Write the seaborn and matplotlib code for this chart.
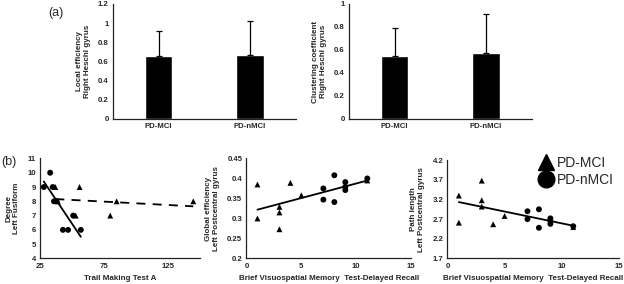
import numpy as np
import pandas as pd
import seaborn as sns
import matplotlib.pyplot as plt
from matplotlib.lines import Line2D

# %% DATA

groups = ['PD-MCI', 'PD-nMCI']
local_eff = [0.66, 0.67]
local_eff_sd = [0.26, 0.35]
clust_coef = [0.55, 0.57]
clust_coef_sd = [0.24, 0.34]

# (b) degree vs trail making test A
tmt_mci = [37, 39, 53, 56, 80, 85, 145]
deg_mci = [9, 8, 7, 9, 7, 8, 8]
tmt_nmci = [28, 33, 35, 36, 38, 43, 47, 51, 57]
deg_nmci = [9, 10, 9, 8, 8, 6, 6, 7, 6]

# (b) BVMT delayed recall vs global efficiency / path length
bvmt_mci = [1, 1, 4, 3, 3, 3, 5, 11]
bvmt_nmci = [7, 7, 8, 8, 9, 9, 9, 11]
geff_mci = [0.385, 0.300, 0.389, 0.329, 0.315, 0.273, 0.358, 0.395]
geff_nmci = [0.375, 0.347, 0.408, 0.341, 0.391, 0.379, 0.371, 0.400]
plen_mci = [3.30, 2.61, 2.57, 3.68, 3.18, 3.02, 2.78, 2.50]
plen_nmci = [2.90, 2.70, 2.95, 2.48, 2.72, 2.66, 2.58, 2.52]

# %% STYLE

sns.set_style('ticks')
plt.rcParams['font.family'] = ['Liberation Sans', 'DejaVu Sans']
plt.rcParams['font.weight'] = 'bold'
plt.rcParams['axes.labelweight'] = 'bold'
TICK = 5.6
LABEL = 5.8

fig = plt.figure(figsize=(6.24, 2.84), dpi=100)


def style_axes(ax):
    sns.despine(ax=ax)
    ax.tick_params(labelsize=TICK, length=0, pad=3)
    for s in ('left', 'bottom'):
        ax.spines[s].set_linewidth(0.9)
        ax.spines[s].set_color('#222222')


# %% (a) BAR PLOTS

def bar_panel(rect, values, sd, ylim, yticks, ylabel):
    ax = fig.add_axes(rect)
    df = pd.DataFrame({'Group': groups, 'Value': values})
    sns.barplot(data=df, x='Group', y='Value', color='black', saturation=1,
                width=0.3, errorbar=None, ax=ax)
    ax.errorbar(x=range(len(groups)), y=values, yerr=[[0] * len(sd), sd],
                fmt='none', ecolor='black', elinewidth=0.9, capsize=2, capthick=0.9)
    ax.set_ylim(*ylim)
    ax.set_yticks(yticks)
    ax.set_yticklabels([f'{t:g}' for t in yticks])
    ax.set_xlim(-0.5, 1.5)
    ax.set_xlabel('')
    ax.set_ylabel(ylabel, fontsize=LABEL, labelpad=5)
    style_axes(ax)
    return ax


bar_panel([0.181, 0.581, 0.293, 0.405], local_eff, local_eff_sd, (0, 1.2),
          np.arange(0, 1.21, 0.2).round(1), 'Local efficiency\nRight Heschl gyrus')
bar_panel([0.559, 0.581, 0.293, 0.405], clust_coef, clust_coef_sd, (0, 1.0),
          np.arange(0, 1.01, 0.2).round(1), 'Clustering coefficient\nRight Heschl gyrus')

# %% (b) SCATTER PLOTS


def scatter_panel(rect, x_mci, y_mci, x_nmci, y_nmci, xlim, xticks, ylim, yticks,
                  xlabel, ylabel, split_fit=False):
    ax = fig.add_axes(rect)
    df = pd.DataFrame({
        'x': list(x_mci) + list(x_nmci),
        'y': list(y_mci) + list(y_nmci),
        'Group': ['PD-MCI'] * len(x_mci) + ['PD-nMCI'] * len(x_nmci),
    })
    sns.scatterplot(data=df, x='x', y='y', style='Group',
                    markers={'PD-MCI': '^', 'PD-nMCI': 'o'},
                    color='black', s=18, linewidth=0, legend=False, ax=ax)
    if split_fit:
        sns.regplot(data=df[df.Group == 'PD-nMCI'], x='x', y='y', scatter=False,
                    ci=None, color='black', line_kws={'lw': 1.3}, ax=ax)
        sns.regplot(data=df[df.Group == 'PD-MCI'], x='x', y='y', scatter=False,
                    ci=None, color='black', line_kws={'lw': 1.3, 'ls': (0, (5, 4))}, ax=ax)
    else:
        sns.regplot(data=df, x='x', y='y', scatter=False, ci=None,
                    color='black', line_kws={'lw': 1.3}, ax=ax)
    ax.set_xlim(*xlim)
    ax.set_ylim(*ylim)
    ax.set_xticks(xticks)
    ax.set_yticks(yticks)
    ax.set_yticklabels([f'{t:g}' for t in yticks])
    ax.set_xlabel(xlabel, fontsize=LABEL, labelpad=4)
    ax.set_ylabel(ylabel, fontsize=LABEL, labelpad=5)
    style_axes(ax)
    return ax


scatter_panel([0.064, 0.09, 0.256, 0.352], tmt_mci, deg_mci, tmt_nmci, deg_nmci,
              (25, 150), [25, 75, 125], (4, 11), range(4, 12),
              'Trail Making Test A', 'Degree\nLeft Fusiform', split_fit=True)
scatter_panel([0.395, 0.09, 0.264, 0.352], bvmt_mci, geff_mci, bvmt_nmci, geff_nmci,
              (0, 15), [0, 5, 10, 15], (0.2, 0.45), [0.2, 0.25, 0.3, 0.35, 0.4, 0.45],
              'Brief Visuospatial Memory  Test-Delayed Recall',
              'Global efficiency\nLeft Postcentral gyrus')
scatter_panel([0.717, 0.09, 0.275, 0.346], bvmt_mci, plen_mci, bvmt_nmci, plen_nmci,
              (0, 15), [0, 5, 10, 15], (1.7, 4.2), [1.7, 2.2, 2.7, 3.2, 3.7, 4.2],
              'Brief Visuospatial Memory  Test-Delayed Recall',
              'Path length\nLeft Postcentral gyrus')

# legend and panel letters
handles = [Line2D([], [], marker='^', ls='none', color='black', markersize=12),
           Line2D([], [], marker='o', ls='none', color='black', markersize=12)]
fig.legend(handles, groups, loc='upper left', bbox_to_anchor=(0.852, 0.47),
           frameon=False, prop={'size': 10, 'weight': 'normal'},
           handletextpad=0.2, labelspacing=0.2, borderaxespad=0, handlelength=1.2)

fig.text(0.077, 0.955, '(a)', fontsize=9, fontweight='normal', va='center')
fig.text(0.002, 0.43, '(b)', fontsize=9, fontweight='normal', va='center')

fig.savefig('out.png', dpi=100)
